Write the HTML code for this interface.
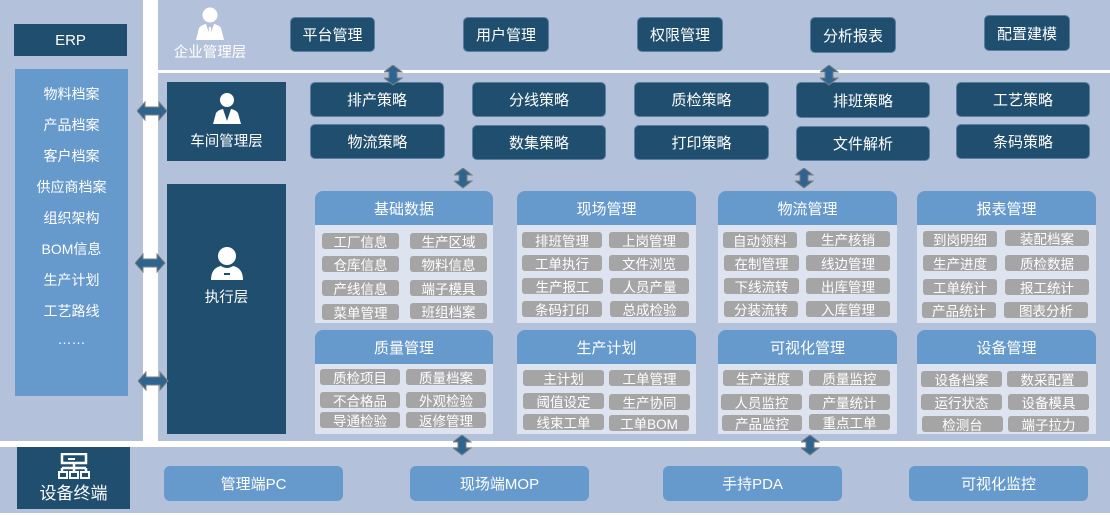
<!DOCTYPE html>
<html><head><meta charset="utf-8"><style>
*{margin:0;padding:0;box-sizing:border-box}
body{width:1110px;height:515px;background:#fff;position:relative;overflow:hidden;font-family:"Liberation Sans","Noto Sans CJK SC",sans-serif;color:#fff}
div{position:absolute}
.bg{background:#b4c1da}
.dk{background:#1f4e6e;color:#fff;display:flex;align-items:center;justify-content:center;font-size:14px}
.btn{background:#1f4e6e;border-radius:5px;display:flex;align-items:center;justify-content:center;font-size:15px;border:1px solid #5b7fa0}
.mh{background:#6699cc;border-radius:8px 8px 0 0;display:flex;align-items:center;justify-content:center;font-size:15px}
.ma{background:#dde4f0}
.it{background:#a5a5a5;border-radius:3px;display:flex;align-items:center;justify-content:center;font-size:13.5px;color:#fff;height:16px;width:77px}
.bb{background:#6699cc;border-radius:6px;display:flex;align-items:center;justify-content:center;font-size:15px}
.erp{position:absolute;left:0;width:113px;text-align:center;font-size:14px}
svg{position:absolute}
</style></head><body>
<div class="bg" style="left:0;top:0;width:143px;height:441px"></div>
<div class="bg" style="left:158px;top:0;width:952px;height:70px"></div>
<div class="bg" style="left:158px;top:73px;width:952px;height:368px"></div>
<div class="bg" style="left:0;top:447px;width:1110px;height:66px"></div>

<div class="dk" style="left:14px;top:24px;width:113px;height:32px;font-size:15px">ERP</div>
<div style="left:15px;top:69px;width:113px;height:327px;background:#6699cc">
<div class="erp" style="top:15px">物料档案</div>
<div class="erp" style="top:46px">产品档案</div>
<div class="erp" style="top:77px">客户档案</div>
<div class="erp" style="top:108px">供应商档案</div>
<div class="erp" style="top:139px">组织架构</div>
<div class="erp" style="top:170px">BOM信息</div>
<div class="erp" style="top:201px">生产计划</div>
<div class="erp" style="top:232px">工艺路线</div>
<div class="erp" style="top:262px">……</div>
</div>

<!-- top -->
<svg style="left:193px;top:6px" width="34" height="34" viewBox="0 0 34 34"><circle cx="17" cy="9" r="7.5" fill="#fff"/><path d="M3 34 L6 22 Q8 19 13 18 L17 30 L21 18 Q26 19 28 22 L31 34Z" fill="#fff"/><path d="M16 21 L18 21 L18.5 30 L17 32 L15.5 30Z" fill="#fff"/></svg>
<div style="left:170px;top:41px;width:80px;text-align:center;font-size:14.5px">企业管理层</div>
<div class="btn" style="left:290px;top:17px;width:85px;height:35px">平台管理</div>
<div class="btn" style="left:463px;top:17px;width:86px;height:35px">用户管理</div>
<div class="btn" style="left:637px;top:17px;width:86px;height:35px">权限管理</div>
<div class="btn" style="left:810px;top:17px;width:86px;height:36px">分析报表</div>
<div class="btn" style="left:984px;top:15px;width:86px;height:36px">配置建模</div>

<!-- workshop -->
<div class="dk" style="left:167px;top:82px;width:119px;height:79px;flex-direction:column">
<svg style="position:static" width="34" height="32" viewBox="0 0 34 32"><circle cx="17" cy="8" r="7" fill="#fff"/><path d="M3 32 L6 21 Q8 18 13 17 L17 29 L21 17 Q26 18 28 21 L31 32Z" fill="#fff"/></svg>
<span style="margin-top:6px;font-size:14.5px">车间管理层</span></div>
<div class="dk" style="left:167px;top:184px;width:119px;height:250px;flex-direction:column;justify-content:flex-start;padding-top:62px">
<svg style="position:static" width="38" height="34" viewBox="0 0 38 34"><circle cx="19" cy="10" r="9" fill="#fff"/><path d="M3 34 Q3 22 13 20 Q19 24 25 20 Q35 22 35 34Z" fill="#fff"/><rect x="16" y="27" width="6" height="2" fill="#1f4e6e"/></svg>
<span style="margin-top:6px;font-size:14.5px">执行层</span></div>

<div class="btn" style="left:310px;top:82px;width:134px;height:35px">排产策略</div>
<div class="btn" style="left:472px;top:82px;width:134px;height:35px">分线策略</div>
<div class="btn" style="left:634px;top:82px;width:135px;height:35px">质检策略</div>
<div class="btn" style="left:796px;top:82px;width:134px;height:36px">排班策略</div>
<div class="btn" style="left:956px;top:82px;width:134px;height:35px">工艺策略</div>
<div class="btn" style="left:310px;top:124px;width:135px;height:35px">物流策略</div>
<div class="btn" style="left:472px;top:125px;width:134px;height:35px">数集策略</div>
<div class="btn" style="left:634px;top:125px;width:135px;height:35px">打印策略</div>
<div class="btn" style="left:796px;top:126px;width:134px;height:35px">文件解析</div>
<div class="btn" style="left:956px;top:124px;width:134px;height:35px">条码策略</div>

<!-- modules row1 -->
<div class="mh" style="left:315px;top:191px;width:178px;height:34px">基础数据</div>
<div class="ma" style="left:315px;top:225px;width:178px;height:98px"></div>
<div class="mh" style="left:517px;top:191px;width:179px;height:34px">现场管理</div>
<div class="ma" style="left:517px;top:225px;width:179px;height:98px"></div>
<div class="mh" style="left:718px;top:191px;width:179px;height:34px">物流管理</div>
<div class="ma" style="left:718px;top:225px;width:179px;height:98px"></div>
<div class="mh" style="left:917px;top:191px;width:179px;height:34px">报表管理</div>
<div class="ma" style="left:917px;top:225px;width:179px;height:98px"></div>
<!-- row2 -->
<div class="mh" style="left:315px;top:330px;width:178px;height:34px">质量管理</div>
<div class="ma" style="left:315px;top:364px;width:178px;height:70px"></div>
<div class="mh" style="left:517px;top:330px;width:179px;height:34px">生产计划</div>
<div class="ma" style="left:517px;top:364px;width:179px;height:70px"></div>
<div class="mh" style="left:718px;top:330px;width:179px;height:34px">可视化管理</div>
<div class="ma" style="left:718px;top:364px;width:179px;height:70px"></div>
<div class="mh" style="left:917px;top:330px;width:179px;height:34px">设备管理</div>
<div class="ma" style="left:917px;top:364px;width:179px;height:70px"></div>

<!-- items col1 -->
<div class="it" style="left:322px;top:233px">工厂信息</div><div class="it" style="left:410px;top:233px">生产区域</div>
<div class="it" style="left:322px;top:256px">仓库信息</div><div class="it" style="left:410px;top:256px">物料信息</div>
<div class="it" style="left:322px;top:280px">产线信息</div><div class="it" style="left:410px;top:280px">端子模具</div>
<div class="it" style="left:322px;top:304px">菜单管理</div><div class="it" style="left:410px;top:303px">班组档案</div>
<div class="it" style="left:320px;top:369px;width:80px">质检项目</div><div class="it" style="left:406px;top:369px;width:80px">质量档案</div>
<div class="it" style="left:320px;top:392px;width:80px">不合格品</div><div class="it" style="left:406px;top:392px;width:80px">外观检验</div>
<div class="it" style="left:320px;top:412px;width:80px">导通检验</div><div class="it" style="left:406px;top:412px;width:80px">返修管理</div>
<!-- col2 -->
<div class="it" style="left:522px;top:232px;width:80px">排班管理</div><div class="it" style="left:609px;top:232px;width:80px">上岗管理</div>
<div class="it" style="left:522px;top:255px;width:80px">工单执行</div><div class="it" style="left:609px;top:255px;width:80px">文件浏览</div>
<div class="it" style="left:522px;top:278px;width:81px">生产报工</div><div class="it" style="left:610px;top:278px;width:79px">人员产量</div>
<div class="it" style="left:522px;top:301px;width:80px">条码打印</div><div class="it" style="left:610px;top:301px;width:79px">总成检验</div>
<div class="it" style="left:523px;top:370px;width:81px">主计划</div><div class="it" style="left:609px;top:370px;width:81px">工单管理</div>
<div class="it" style="left:523px;top:393px;width:81px">阈值设定</div><div class="it" style="left:609px;top:394px;width:81px">生产协同</div>
<div class="it" style="left:523px;top:414px;width:81px">线束工单</div><div class="it" style="left:609px;top:415px;width:80px">工单BOM</div>
<!-- col3 -->
<div class="it" style="left:723px;top:232px;width:74px">自动领料</div><div class="it" style="left:806px;top:231px;width:84px">生产核销</div>
<div class="it" style="left:724px;top:255px;width:75px">在制管理</div><div class="it" style="left:806px;top:255px;width:84px">线边管理</div>
<div class="it" style="left:724px;top:278px;width:75px">下线流转</div><div class="it" style="left:806px;top:278px;width:84px">出库管理</div>
<div class="it" style="left:724px;top:301px;width:74px">分装流转</div><div class="it" style="left:806px;top:301px;width:84px">入库管理</div>
<div class="it" style="left:723px;top:370px;width:80px">生产进度</div><div class="it" style="left:809px;top:370px;width:81px">质量监控</div>
<div class="it" style="left:721px;top:394px;width:81px">人员监控</div><div class="it" style="left:809px;top:394px;width:81px">产量统计</div>
<div class="it" style="left:722px;top:415px;width:80px">产品监控</div><div class="it" style="left:809px;top:414px;width:81px">重点工单</div>
<!-- col4 -->
<div class="it" style="left:923px;top:231px;width:74px">到岗明细</div><div class="it" style="left:1005px;top:230px;width:84px">装配档案</div>
<div class="it" style="left:923px;top:255px;width:74px">生产进度</div><div class="it" style="left:1005px;top:255px;width:84px">质检数据</div>
<div class="it" style="left:923px;top:279px;width:74px">工单统计</div><div class="it" style="left:1005px;top:279px;width:84px">报工统计</div>
<div class="it" style="left:922px;top:302px;width:74px">产品统计</div><div class="it" style="left:1004px;top:302px;width:84px">图表分析</div>
<div class="it" style="left:921px;top:371px;width:81px">设备档案</div><div class="it" style="left:1007px;top:371px;width:81px">数采配置</div>
<div class="it" style="left:921px;top:394px;width:81px">运行状态</div><div class="it" style="left:1008px;top:394px;width:81px">设备模具</div>
<div class="it" style="left:922px;top:416px;width:81px">检测台</div><div class="it" style="left:1008px;top:416px;width:81px">端子拉力</div>

<!-- bottom -->
<div class="dk" style="left:17px;top:447px;width:113px;height:62px;flex-direction:column;font-size:17px">
<svg style="position:static" width="32" height="26" viewBox="0 0 32 26"><rect x="4" y="1" width="24" height="9" fill="none" stroke="#fff" stroke-width="2.5"/><rect x="10" y="5" width="7" height="2" fill="#fff"/><path d="M16 10V15M4 15H28M4 15V19M16 15V19M28 15V19" stroke="#fff" stroke-width="2.5" fill="none"/><rect x="1" y="19" width="8" height="6" fill="none" stroke="#fff" stroke-width="2"/><rect x="12" y="19" width="8" height="6" fill="none" stroke="#fff" stroke-width="2"/><rect x="23" y="19" width="8" height="6" fill="none" stroke="#fff" stroke-width="2"/></svg>
<span>设备终端</span></div>
<div class="bb" style="left:164px;top:466px;width:179px;height:35px">管理端PC</div>
<div class="bb" style="left:410px;top:466px;width:179px;height:35px">现场端MOP</div>
<div class="bb" style="left:663px;top:466px;width:179px;height:35px">手持PDA</div>
<div class="bb" style="left:909px;top:466px;width:179px;height:35px">可视化监控</div>

<svg width="0" height="0"><defs>
<g id="va"><path d="M9 0 L18 7 L13 7 L13 13 L18 13 L9 20 L0 13 L5 13 L5 7 L0 7Z" fill="#2d6590" stroke="#7f7f7f" stroke-width="1"/></g>
<g id="ha"><path d="M0 10 L8 1 L8 6 L22 6 L22 1 L30 10 L22 19 L22 14 L8 14 L8 19Z" fill="#2d6590" stroke="#7f7f7f" stroke-width="1"/></g>
</defs></svg>
<svg style="left:384px;top:65px" width="19" height="21"><use href="#va"/></svg>
<svg style="left:820px;top:65px" width="19" height="21"><use href="#va"/></svg>
<svg style="left:454px;top:168px" width="19" height="21"><use href="#va"/></svg>
<svg style="left:795px;top:168px" width="19" height="21"><use href="#va"/></svg>
<svg style="left:453px;top:435px" width="19" height="21"><use href="#va"/></svg>
<svg style="left:801px;top:435px" width="19" height="21"><use href="#va"/></svg>
<svg style="left:137px;top:101px" width="31" height="21"><use href="#ha"/></svg>
<svg style="left:135px;top:253px" width="31" height="21"><use href="#ha"/></svg>
<svg style="left:138px;top:371px" width="31" height="21"><use href="#ha"/></svg>
</body></html>
